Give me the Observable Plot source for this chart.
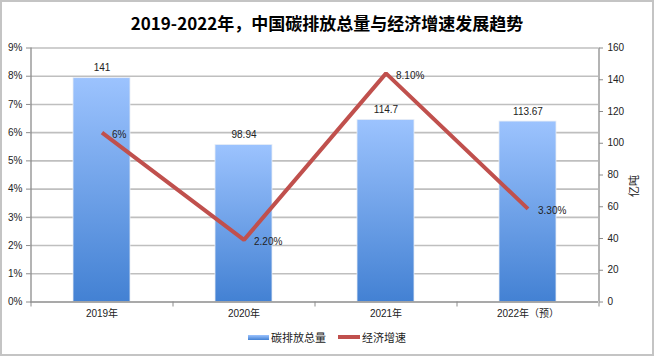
<!DOCTYPE html>
<html><head><meta charset="utf-8">
<script src="https://cdn.jsdelivr.net/npm/d3@7"></script>
<script src="https://cdn.jsdelivr.net/npm/@observablehq/plot@0.6"></script>
<style>
body{margin:0;background:#fff;}
#wrap{position:relative;width:654px;height:356px;overflow:hidden;font-family:"Liberation Sans","Noto Sans CJK SC",sans-serif;background:#fff;}
#wrap svg{position:absolute;left:0;top:0;}
#frame{position:absolute;left:0;top:0;width:654px;height:356px;box-sizing:border-box;border:2px solid #c4c4c4;pointer-events:none;}
#title{position:absolute;left:0;top:10px;width:654px;text-align:center;font-weight:bold;font-size:17px;line-height:26px;font-family:"Noto Sans CJK SC",sans-serif;color:#000;}
#legend{position:absolute;left:0;top:328px;width:654px;display:flex;justify-content:center;align-items:center;font-size:11px;line-height:18px;color:#222;font-family:"Noto Sans CJK SC",sans-serif;}
.sw{display:inline-block;margin-right:2px;}
</style>
</head><body>
<div id="wrap">
  <div id="title">2019-2022年，中国碳排放总量与经济增速发展趋势</div>
  <div id="legend"></div>
  <div id="frame"></div>
</div>
<script>
// ---- data ----
const years = ["2019年", "2020年", "2021年", "2022年（预）"];
const emissions = [141, 98.94, 114.7, 113.67];          // 亿吨 (right axis)
const emissionLabels = ["141", "98.94", "114.7", "113.67"];
const growth = [6, 2.2, 8.1, 3.3];                      // % (left axis)
const growthLabels = ["6%", "2.20%", "8.10%", "3.30%"];
const leftTicks = [0, 1, 2, 3, 4, 5, 6, 7, 8, 9];
const rightTicks = [0, 20, 40, 60, 80, 100, 120, 140, 160];
const seriesNames = ["碳排放总量", "经济增速"];
const rightUnit = "亿吨";

const leftMax = 9, rightMax = 160;
const toLeft = v => v * leftMax / rightMax;

const rows = years.map((y, i) => ({
  year: y, emission: emissions[i], eLabel: emissionLabels[i],
  growth: growth[i], gLabel: growthLabels[i]
}));

const font = '"Liberation Sans","Noto Sans CJK SC",sans-serif';
const grid = "#bfbfbf", axisC = "#8c8c8c", lineC = "#c0504d";

const chart = Plot.plot({
  width: 654, height: 356,
  marginTop: 47.5, marginBottom: 54.5, marginLeft: 30, marginRight: 56,
  style: {fontFamily: font, fontSize: "10px", color: "#222", background: "transparent"},
  x: {domain: years, paddingInner: 0.6, paddingOuter: 0.3, label: null},
  y: {domain: [0, leftMax], label: null},
  marks: [
    Plot.gridY(leftTicks.slice(1), {stroke: grid, strokeOpacity: 1, strokeWidth: 1.6}),
    Plot.barY(rows, {x: "year", y: d => toLeft(d.emission), fill: "url(#barGrad)", stroke: "#e9eef6", strokeWidth: 0.8}),
    Plot.ruleY([0], {stroke: axisC, strokeWidth: 1.3}),
    // left and right axis lines (band edges)
    Plot.ruleX([years[0]], {x: d => d, dx: -71, y1: 0, y2: leftMax, stroke: axisC, strokeWidth: 1.3}),
    Plot.ruleX([years[years.length - 1]], {x: d => d, dx: 71, y1: 0, y2: leftMax, stroke: axisC, strokeWidth: 1.3}),
    // category boundary ticks on the bottom axis
    Plot.ruleX(years, {x: d => d, dx: -71, y1: 0, y2: 0, insetTop: 5, stroke: axisC, strokeWidth: 1}),
    Plot.ruleX([years[years.length - 1]], {x: d => d, dx: 71, y1: 0, y2: 0, insetTop: 5, stroke: axisC, strokeWidth: 1}),
    Plot.axisY(leftTicks, {anchor: "left", tickSize: 4, tickPadding: 4, stroke: axisC, tickFormat: d => d + "%", label: null, fill: "#222"}),
    Plot.axisY(rightTicks, {anchor: "right", y: d => toLeft(d), tickSize: 4, tickPadding: 5, stroke: axisC, tickFormat: d => String(d), label: null, fill: "#222"}),
    Plot.axisX({anchor: "bottom", tickSize: 0, tickPadding: 8, label: null, fill: "#222"}),
    Plot.text([rightUnit], {frameAnchor: "right", dx: 36, rotate: -90, fontSize: 11, fill: "#222"}),
    Plot.line(rows, {x: "year", y: "growth", stroke: lineC, strokeWidth: 4, strokeLinejoin: "miter", strokeLinecap: "butt"}),
    Plot.text(rows, {x: "year", y: d => toLeft(d.emission), text: "eLabel", dy: -10, fontSize: 10, fill: "#222"}),
    Plot.text(rows, {x: "year", y: "growth", text: "gLabel", dx: 10, dy: 2, textAnchor: "start", fontSize: 10, fill: "#222"})
  ]
});

// gradient definition for the bars
const ns = "http://www.w3.org/2000/svg";
const defs = document.createElementNS(ns, "defs");
const lg = document.createElementNS(ns, "linearGradient");
lg.setAttribute("id", "barGrad");
lg.setAttribute("x1", "0"); lg.setAttribute("y1", "0");
lg.setAttribute("x2", "0"); lg.setAttribute("y2", "1");
[["0%", "#9cc3fe"], ["100%", "#4381d3"]].forEach(([o, c]) => {
  const s = document.createElementNS(ns, "stop");
  s.setAttribute("offset", o); s.setAttribute("stop-color", c);
  lg.appendChild(s);
});
defs.appendChild(lg);
chart.insertBefore(defs, chart.firstChild);

const wrap = document.getElementById("wrap");
wrap.insertBefore(chart, wrap.firstChild);

// legend
const legend = document.getElementById("legend");
legend.innerHTML =
  `<span class="sw" style="width:21px;height:5px;background:linear-gradient(#9cc3fe,#4381d3);"></span>` +
  `<span style="margin-right:12px">${seriesNames[0]}</span>` +
  `<span class="sw" style="width:22px;height:4px;background:${lineC};"></span>` +
  `<span>${seriesNames[1]}</span>`;
</script>
</body></html>
